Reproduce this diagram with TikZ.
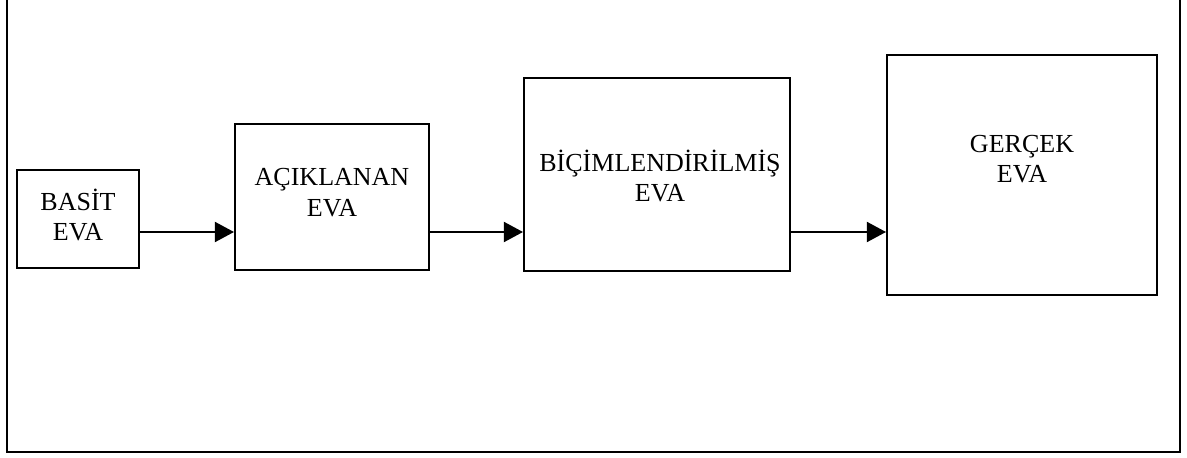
\documentclass[tikz,border=0pt]{standalone}
\usepackage{fontspec}
\setmainfont{Liberation Serif}
\usetikzlibrary{arrows.meta}
\tikzset{
	evabox/.style={draw, line width=1.4pt, inner sep=0pt},
	evatext/.style={align=center, font=\fontsize{18.5}{21.5}\selectfont},
	flow/.style={line width=1.6pt, -{Triangle[length=0.48cm, width=0.5cm]}}
}

\begin{document}
\begin{tikzpicture}
			%%%%% START %%%%%
			\useasboundingbox (0, 0) rectangle (29.675, 11.425);
			\draw[line width=1.2pt] (0.175, 11.425) -- (0.175, 0.125) -- (29.5, 0.125) -- (29.5, 11.425);
			
			\node[evabox, minimum width=3.05cm, minimum height=2.45cm] (basit) at (1.95, 5.95) {};
			\node[evabox, minimum width=4.85cm, minimum height=3.65cm] (aciklanan) at (8.3, 6.5) {};
			\node[evabox, minimum width=6.65cm, minimum height=4.825cm] (bicim) at (16.425, 7.0625) {};
			\node[evabox, minimum width=6.75cm, minimum height=6cm] (gercek) at (25.55, 7.05) {};
			
			\node[evatext] (basitlbl) at (1.95, 6.05) {BASİT\\EVA};
			\node[evatext] (aciklananlbl) at (8.3, 6.6125) {AÇIKLANAN\\EVA};
			\node[evatext] (bicimlbl) at (16.5, 7.025) {BİÇİMLENDİRİLMİŞ\\EVA};
			\node[evatext] (gerceklbl) at (25.55, 7.45) {GERÇEK\\EVA};
			
			\coordinate (flowline) at (0, 5.625);
			\draw[flow] (basit.east |- flowline) -- (aciklanan.west |- flowline);
			\draw[flow] (aciklanan.east |- flowline) -- (bicim.west |- flowline);
			\draw[flow] (bicim.east |- flowline) -- (gercek.west |- flowline);
			%%%%% END %%%%%
\end{tikzpicture}
\end{document}
